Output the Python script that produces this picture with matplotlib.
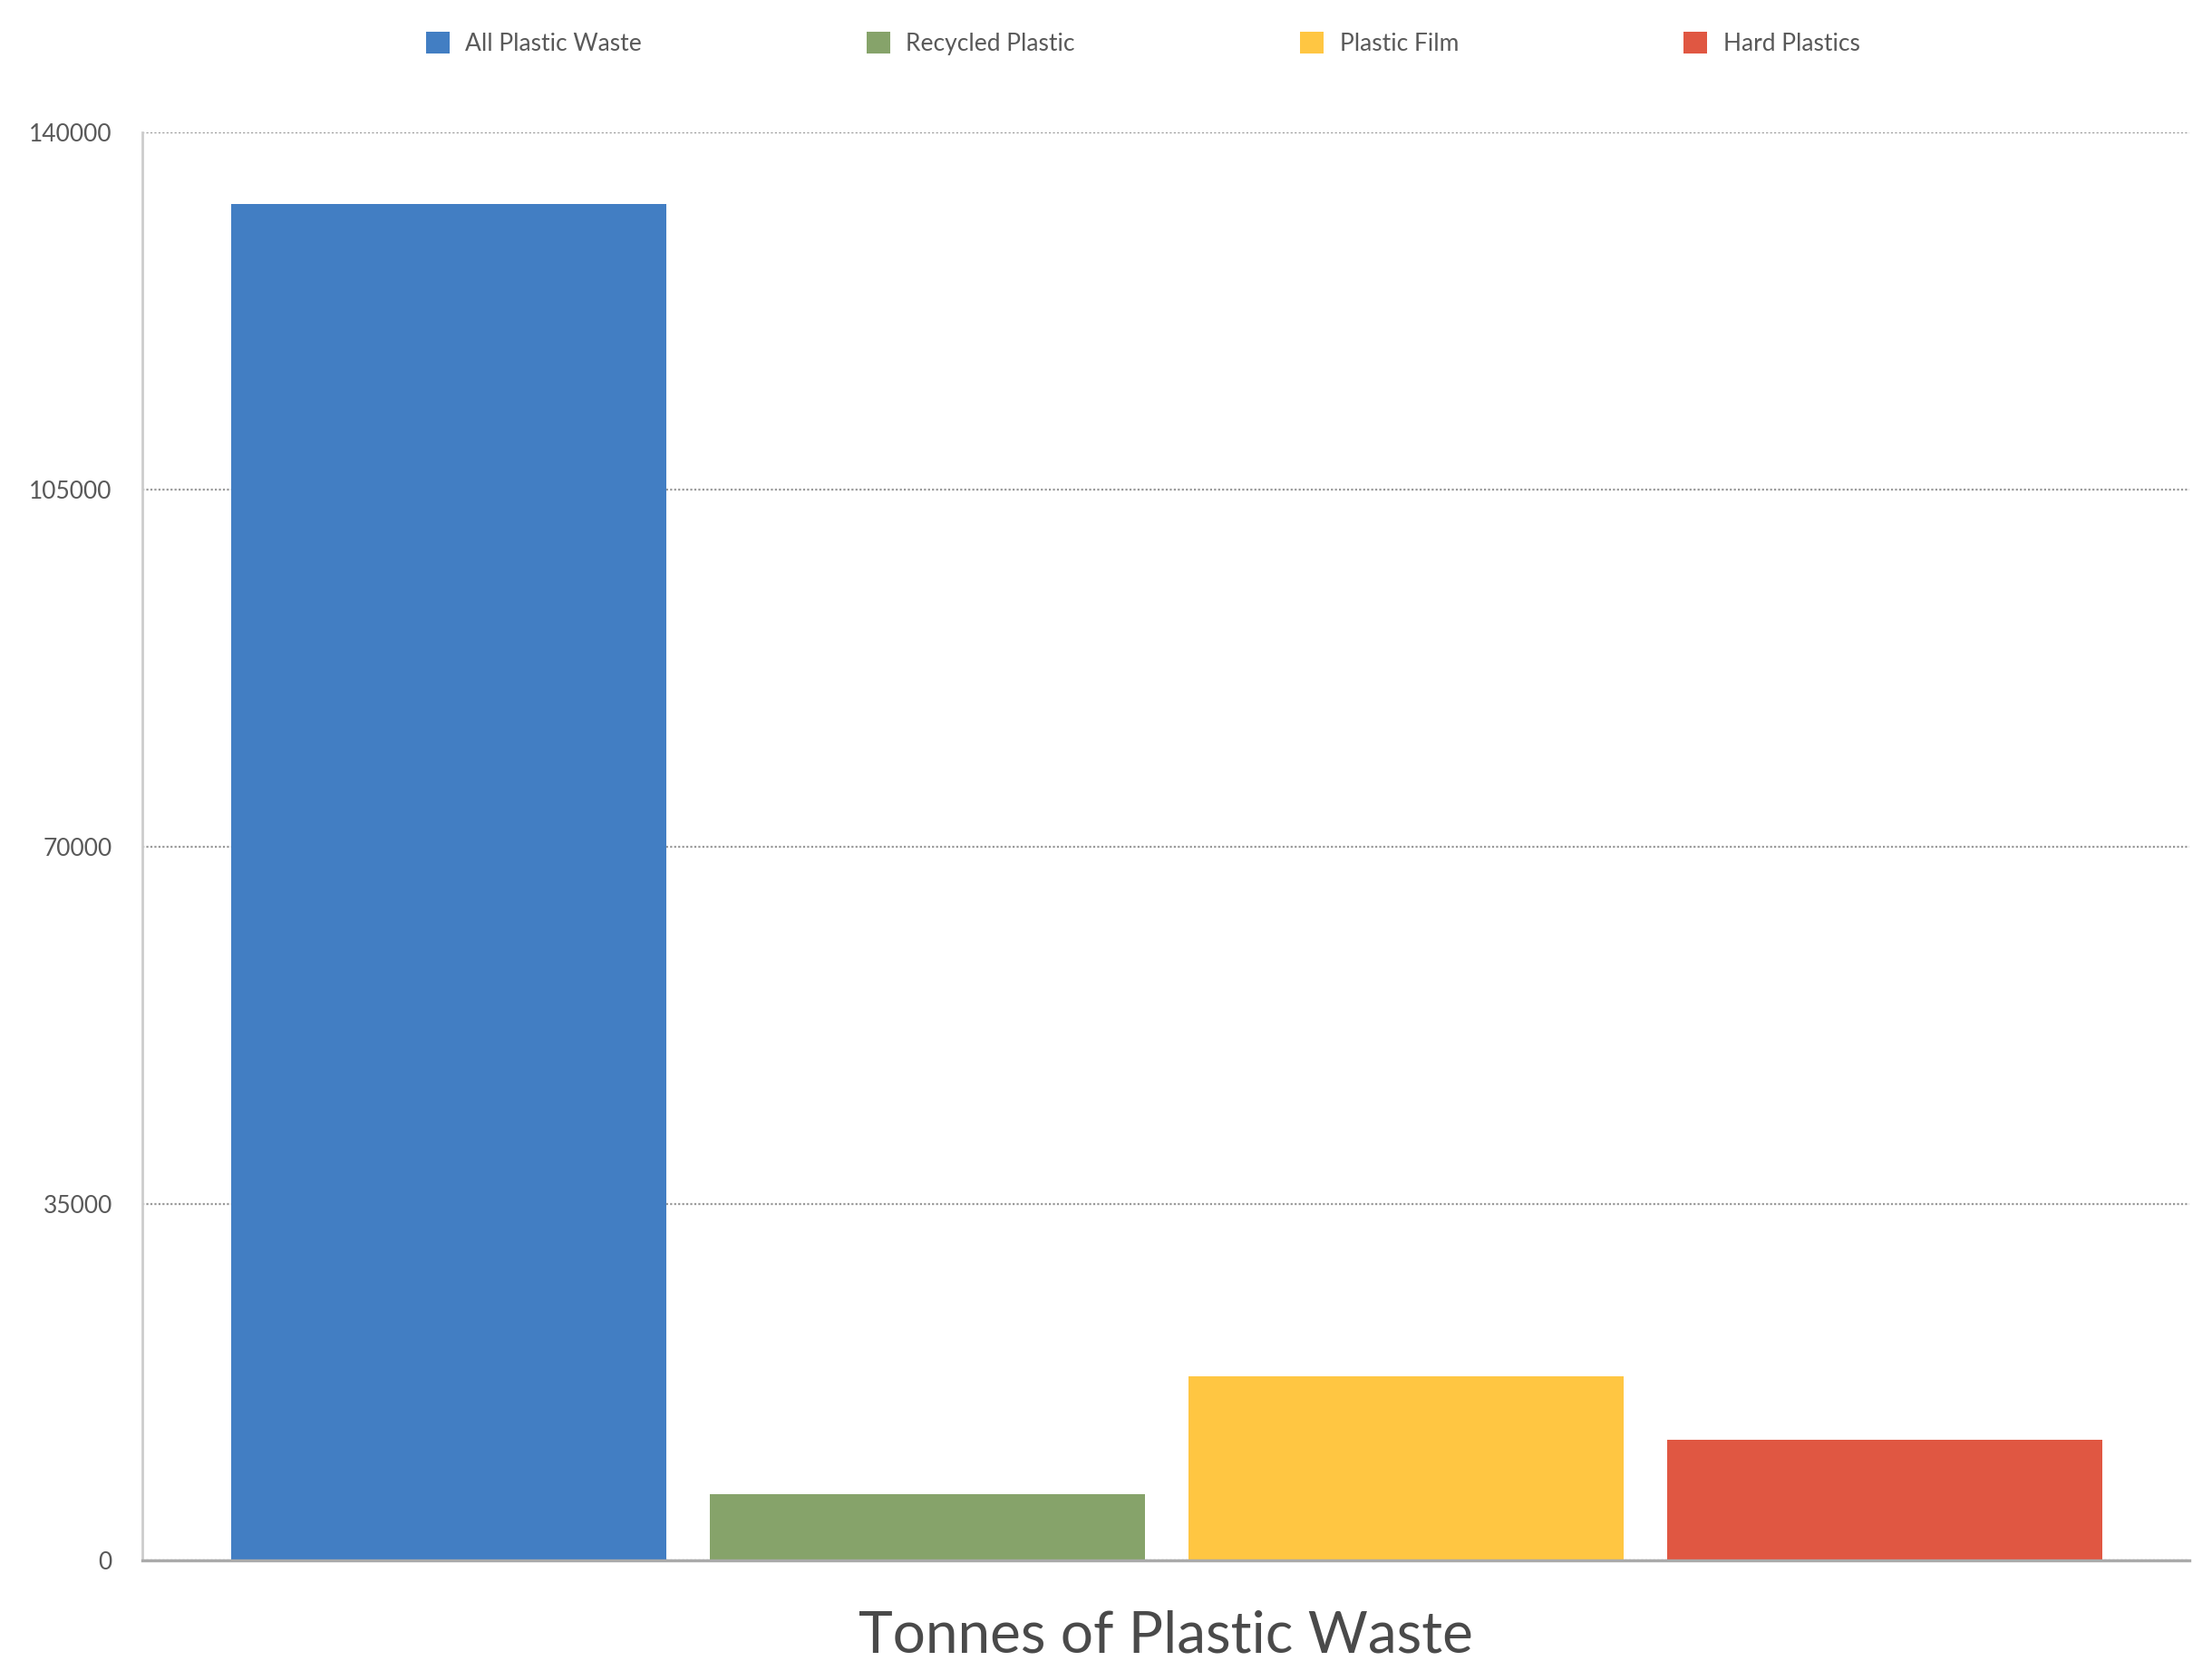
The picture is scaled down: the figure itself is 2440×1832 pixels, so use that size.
import matplotlib
matplotlib.use("Agg")
import matplotlib.pyplot as plt
from matplotlib.patches import Patch

plt.rcParams['font.family'] = ['Lato', 'DejaVu Sans']

categories = ["All Plastic Waste", "Recycled Plastic", "Plastic Film", "Hard Plastics"]
values = [133000, 6500, 18100, 11900]
colors = ["#427EC3", "#86A36A", "#FFC642", "#E05742"]
yticks = [0, 35000, 70000, 105000, 140000]
ytick_labels = ["0", "35000", "70000", "105000", "140000"]
xlabel = "Tonnes of Plastic Waste"

W, H = 2440, 1832
dpi = 200
fig = plt.figure(figsize=(W / dpi, H / dpi), dpi=dpi)
left, right = 101 / 1568, 1552 / 1568
top, bottom = 1 - 94 / 1177, 1 - 1106 / 1177
ax = fig.add_axes([left, bottom, right - left, top - bottom])

width = 0.909
x = list(range(len(categories)))
ax.bar(x, values, width=width, color=colors, zorder=3, linewidth=0)

ax.set_xlim(-0.64, 3.637)
ax.set_ylim(0, 140000)
ax.set_yticks(yticks)
ax.set_yticklabels(ytick_labels)
ax.set_xticks([])
ax.tick_params(axis='y', length=0, pad=12, labelsize=9.5, labelcolor="#595959")
ax.grid(axis='y', linestyle=(0, (1, 1)), color="#9a9a9a", linewidth=0.8, zorder=0)
for s in ["top", "right"]:
    ax.spines[s].set_visible(False)
ax.spines["left"].set_color("#cccccc")
ax.spines["left"].set_linewidth(1.0)
ax.spines["bottom"].set_color("#aaaaaa")
ax.spines["bottom"].set_linewidth(1.2)
ax.spines["bottom"].set_zorder(4)

handles = [Patch(facecolor=c, edgecolor='none', label=l) for c, l in zip(colors, categories)]
fig.legend(handles=handles, loc='center', bbox_to_anchor=(810 / 1568, 1 - 31 / 1177),
           ncol=4, frameon=False, fontsize=9.5, labelcolor="#595959",
           handlelength=1.0, handleheight=1.0, handletextpad=0.65, columnspacing=9.4)

fig.text((left + right) / 2, 1 - 1171 / 1177, xlabel, ha='center', va='baseline',
         fontsize=23, color="#4a4a4a")

fig.savefig("out.png", dpi=dpi)
